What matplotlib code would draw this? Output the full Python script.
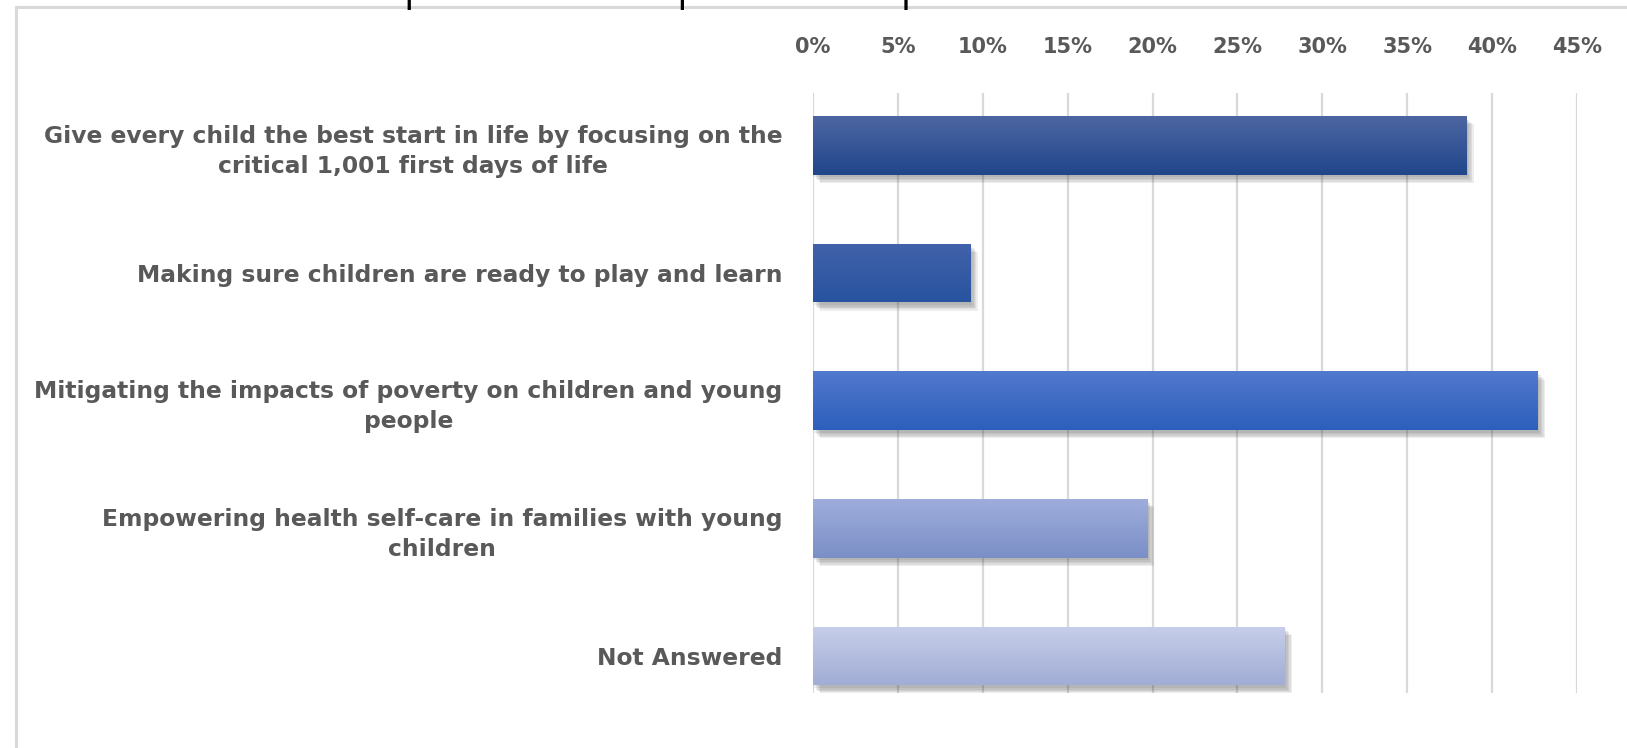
import numpy as np
import matplotlib
matplotlib.use("Agg")
import matplotlib.pyplot as plt
import matplotlib.patheffects as pe
from matplotlib.lines import Line2D

# Data
categories = [
    "Give every child the best start in life by focusing on the\ncritical 1,001 first days of life",
    "Making sure children are ready to play and learn",
    "Mitigating the impacts of poverty on children and young\npeople",
    "Empowering health self-care in families with young\nchildren",
    "Not Answered",
]
values = [0.385, 0.093, 0.427, 0.197, 0.278]
xticks = [0, 0.05, 0.10, 0.15, 0.20, 0.25, 0.30, 0.35, 0.40, 0.45]
xtick_labels = ["0%", "5%", "10%", "15%", "20%", "25%", "30%", "35%", "40%", "45%"]
title = "Overview of the responses to this part of the question"

# gradient colours per bar (top, bottom)
bar_colors = [
    ("#4d66a2", "#20468b"),
    ("#4262ab", "#28539f"),
    ("#5279cd", "#2c5fbc"),
    ("#9eaddb", "#7b8fc7"),
    ("#c6cee9", "#a2add5"),
]

text_color = "#595959"
grid_color = "#d9d9d9"


def main():
    plt.rcParams["font.family"] = ["DejaVu Sans"]
    fig = plt.figure(figsize=(16.27, 7.48), dpi=100)
    ax = fig.add_axes([813 / 1627, 1 - 693 / 748, (1577 - 813) / 1627, 600 / 748])

    y = np.arange(len(categories))
    bars = ax.barh(y, values, height=0.46, color="none", zorder=3)
    # soft shadow: several faint offset copies
    shadow = [pe.SimplePatchShadow(offset=(d, -d - 1), shadow_rgbFace="#404040", alpha=0.09)
              for d in (1, 2, 3, 4, 5)]
    for bar, (c_top, c_bot) in zip(bars, bar_colors):
        bar.set_facecolor(c_bot)
        bar.set_path_effects(shadow + [pe.Normal()])
        x0, y0 = bar.get_x(), bar.get_y()
        w, h = bar.get_width(), bar.get_height()
        top = np.array(matplotlib.colors.to_rgb(c_top))
        bot = np.array(matplotlib.colors.to_rgb(c_bot))
        t = np.linspace(0, 1, 64)[:, None, None]
        grad = top * (1 - t) + bot * t
        im = ax.imshow(grad, extent=(x0, x0 + w, y0 + h, y0), aspect="auto",
                       zorder=4, interpolation="bilinear")
        im.set_clip_path(bar)

    ax.set_xlim(0, 0.45)
    ax.set_ylim(4.29, -0.41)
    ax.set_xticks(xticks)
    ax.set_xticklabels(xtick_labels)
    ax.xaxis.tick_top()
    ax.tick_params(axis="x", length=0, pad=26, labelsize=15, labelcolor=text_color)
    ax.set_yticks(y)
    ax.set_yticklabels(categories)
    ax.tick_params(axis="y", length=0, pad=22, labelsize=16.85, labelcolor=text_color)
    for lbl in ax.get_xticklabels() + ax.get_yticklabels():
        lbl.set_fontweight("bold")
    for lbl in ax.get_yticklabels():
        lbl.set_multialignment("center")
        lbl.set_linespacing(1.4)

    ax.grid(axis="x", color=grid_color, linewidth=1.6, zorder=0)
    ax.set_axisbelow(True)
    for s in ax.spines.values():
        s.set_visible(False)

    # outer frame of the chart area
    fig.add_artist(Line2D([16 / 1627, 1], [1 - 7 / 748, 1 - 7 / 748],
                          transform=fig.transFigure, color=grid_color, linewidth=2.2))
    fig.add_artist(Line2D([16 / 1627, 16 / 1627], [0, 1 - 7 / 748],
                          transform=fig.transFigure, color=grid_color, linewidth=2.2))

    # cut-off heading above the chart
    fig.text(40 / 1627, 1.0, title, fontsize=29, color="black",
             family=["Open Sans", "DejaVu Sans"], va="baseline", ha="left")

    fig.savefig("out.png", dpi=100)


if __name__ == "__main__":
    main()
